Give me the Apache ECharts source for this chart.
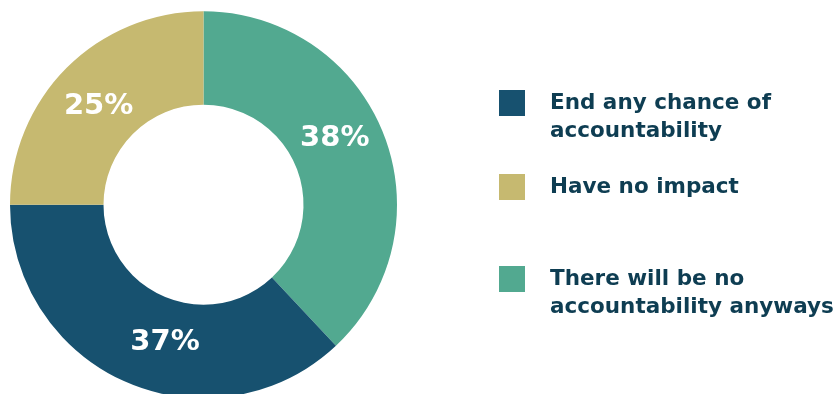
<!DOCTYPE html>
<html>
<head>
<meta charset="utf-8">
<script src="https://cdn.jsdelivr.net/npm/echarts@6/dist/echarts.min.js"></script>
<style>
  html, body { margin: 0; padding: 0; background: #ffffff; }
  #chart { width: 839px; height: 394px; }
</style>
</head>
<body>
<div id="chart"></div>
<script>
// Survey answers, in drawing order (clockwise from 12 o'clock)
const answers = [
  'There will be no\naccountability anyways',
  'End any chance of\naccountability',
  'Have no impact'
];
const shares = [38, 37, 25];
const colors = ['#52A990', '#17516F', '#C6B970'];

// Legend listing order and vertical placement of each entry
const legendOrder = [1, 2, 0];
const legendTops = [61, 173, 237];

// Small shifts of the percentage labels away from the ring's mid-line
const labelNudge = [[-8, -11], [21, 0], [1, 8]];

const FONT = '"DejaVu Sans", sans-serif';
const LINE = 28;
const textColor = '#0E3D52';

const chart = echarts.init(document.getElementById('chart'));

const legends = legendOrder.map((idx, k) => {
  const twoLines = answers[idx].indexOf('\n') >= 0;
  return {
    data: [answers[idx]],
    left: 499,
    top: legendTops[k],
    padding: 0,
    itemWidth: 26,
    itemHeight: 26,
    icon: 'rect',
    selectedMode: false,
    // an empty leading line keeps the first text line level with the swatch
    formatter: name => (twoLines ? '\n' : '') + name,
    textStyle: {
      fontFamily: FONT,
      fontWeight: 'bold',
      fontSize: 21.5,
      lineHeight: LINE,
      color: textColor,
      padding: [0, 0, 0, 20]
    }
  };
});

chart.setOption({
  animation: false,
  legend: legends,
  series: [{
    type: 'pie',
    center: [203.5, 204.7],
    radius: [100, 193.5],
    startAngle: 90,
    clockwise: true,
    avoidLabelOverlap: false,
    label: {
      show: true,
      position: 'inside',
      formatter: '{c}%',
      color: '#ffffff',
      fontFamily: FONT,
      fontWeight: 'bold',
      fontSize: 29
    },
    labelLayout: params => ({
      dx: labelNudge[params.dataIndex][0],
      dy: labelNudge[params.dataIndex][1]
    }),
    labelLine: { show: false },
    emphasis: { disabled: true },
    itemStyle: { borderWidth: 0 },
    data: answers.map((name, i) => ({
      name: name,
      value: shares[i],
      itemStyle: { color: colors[i] }
    }))
  }]
});
</script>
</body>
</html>
